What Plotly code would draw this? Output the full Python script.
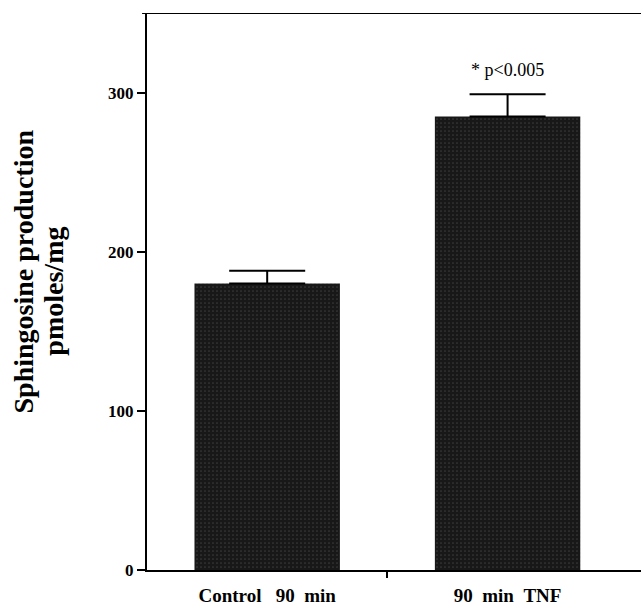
import plotly.graph_objects as go

NB = "\u00a0"
categories = ["Control" + NB * 3 + "90" + NB * 2 + "min", "90" + NB * 2 + "min" + NB * 2 + "TNF"]
values = [180, 285]
errors = [8, 14]
y_ticks = [0, 100, 200, 300]
annotation_text = "* p<0.005"
y_title_lines = ["Sphingosine production", "pmoles/mg"]

x_pos = list(range(len(categories)))

fig = go.Figure()
fig.add_trace(go.Bar(
    x=x_pos, y=values, width=0.605,
    marker=dict(color="#1e1e1e", line=dict(width=0),
                pattern=dict(shape=".", fgcolor="#5a5a5a", bgcolor="#181818", size=4, solidity=0.15)),
    error_y=dict(type="data", array=errors, arrayminus=[0, 0], symmetric=False,
                 color="black", thickness=2, width=38),
))

serif = "Liberation Serif, Times New Roman, serif"
fig.update_layout(
    width=641, height=605,
    margin=dict(l=147, r=0, t=13, b=35),
    plot_bgcolor="white", paper_bgcolor="white",
    showlegend=False,
    xaxis=dict(range=[-0.5, 1.555], tickvals=x_pos, ticktext=categories, automargin=False,
               showline=True, linecolor="black", linewidth=2, ticks="",
               tickfont=dict(family=serif, size=19, color="black", weight="bold"),
               ticklabelstandoff=7, showgrid=False, zeroline=False,
               minor=dict(tickmode="array", tickvals=[0.5], ticks="outside", ticklen=6,
                          tickwidth=2, tickcolor="black")),
    yaxis=dict(range=[0, 350], tickvals=y_ticks, showline=True, linecolor="black", linewidth=2,
               automargin=False,
               ticks="outside", ticklen=8, tickwidth=2, tickcolor="black",
               tickfont=dict(family=serif, size=17, color="black", weight="bold"),
               showgrid=False, zeroline=False),
)
fig.add_shape(type="line", xref="paper", yref="y", x0=-0.01, x1=1.0, y0=350, y1=350,
              line=dict(color="black", width=2))
fig.add_shape(type="line", xref="paper", yref="y", x0=-0.01, x1=0, y0=0, y1=0,
              line=dict(color="black", width=2))
fig.add_annotation(x=1, y=values[1] + errors[1], yshift=24, text=annotation_text, showarrow=False,
                   font=dict(family=serif, size=18, color="black"))
fig.add_annotation(xref="paper", yref="paper", x=-0.25, y=0.535, text=y_title_lines[0], textangle=-90,
                   xanchor="center", yanchor="middle",
                   showarrow=False, font=dict(family=serif, size=28, color="black", weight="bold"))
fig.add_annotation(xref="paper", yref="paper", x=-0.19, y=0.5, text=y_title_lines[1], textangle=-90,
                   xanchor="center", yanchor="middle",
                   showarrow=False, font=dict(family=serif, size=28, color="black", weight="bold"))

fig.write_html("out.html", config={"displayModeBar": False},
               post_script="document.body.style.margin='0';")
